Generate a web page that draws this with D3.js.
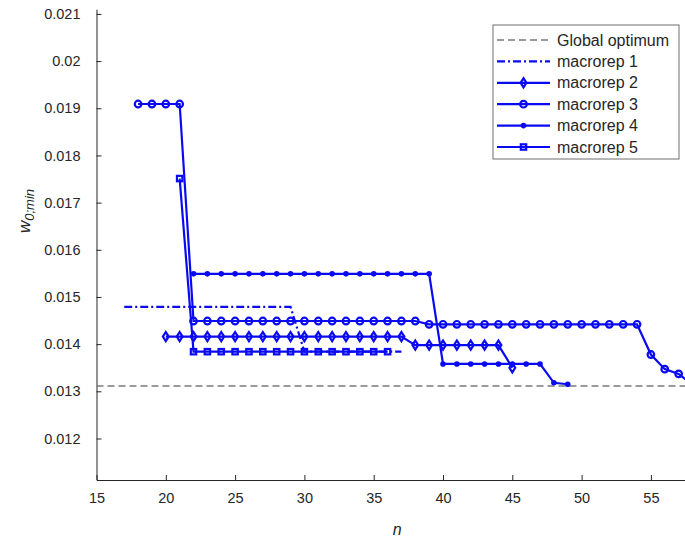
<!DOCTYPE html>
<html>
<head>
<meta charset="utf-8">
<script src="https://cdn.jsdelivr.net/npm/d3@7"></script>
<style>
  html, body { margin: 0; padding: 0; background: #fff; }
  svg { display: block; font-family: "Liberation Sans", Arial, sans-serif; }
</style>
</head>
<body>
<div id="chart"></div>
<script>
// values: [n, w0;min]
const globalOptimum = 0.01311;

const macrorep1 = [[17,0.01479],[18,0.01479],[19,0.01479],[20,0.01479],[21,0.01479],[22,0.01479],[23,0.01479],
  [24,0.01479],[25,0.01479],[26,0.01479],[27,0.01479],[28,0.01479],[29,0.01479],
  [30,0.01384],[31,0.01384],[32,0.01384],[33,0.01384],[34,0.01384],[35,0.01384],[36,0.01384],[37,0.01384]];

const macrorep2 = [[20,0.01416],[21,0.01416],[22,0.01416],[23,0.01416],[24,0.01416],[25,0.01416],[26,0.01416],
  [27,0.01416],[28,0.01416],[29,0.01416],[30,0.01416],[31,0.01416],[32,0.01416],[33,0.01416],[34,0.01416],
  [35,0.01416],[36,0.01416],[37,0.01416],
  [38,0.01398],[39,0.01398],[40,0.01398],[41,0.01398],[42,0.01398],[43,0.01398],[44,0.01398],
  [45,0.01350]];

const macrorep3 = [[18,0.01909],[19,0.01909],[20,0.01909],[21,0.01909],
  [22,0.01449],[23,0.01449],[24,0.01449],[25,0.01449],[26,0.01449],[27,0.01449],[28,0.01449],[29,0.01449],
  [30,0.01449],[31,0.01449],[32,0.01449],[33,0.01449],[34,0.01449],[35,0.01449],[36,0.01449],[37,0.01449],
  [38,0.01449],
  [39,0.01442],[40,0.01442],[41,0.01442],[42,0.01442],[43,0.01442],[44,0.01442],[45,0.01442],[46,0.01442],
  [47,0.01442],[48,0.01442],[49,0.01442],[50,0.01442],[51,0.01442],[52,0.01442],[53,0.01442],[54,0.01442],
  [55,0.01378],[56,0.01347],[57,0.01337],[58,0.01314]];

const macrorep4 = [[22,0.01549],[23,0.01549],[24,0.01549],[25,0.01549],[26,0.01549],[27,0.01549],[28,0.01549],
  [29,0.01549],[30,0.01549],[31,0.01549],[32,0.01549],[33,0.01549],[34,0.01549],[35,0.01549],[36,0.01549],
  [37,0.01549],[38,0.01549],[39,0.01549],
  [40,0.01358],[41,0.01358],[42,0.01358],[43,0.01358],[44,0.01358],[45,0.01358],[46,0.01358],[47,0.01358],
  [48,0.01318],[49,0.01315]];

const macrorep5 = [[21,0.01751],
  [22,0.01384],[23,0.01384],[24,0.01384],[25,0.01384],[26,0.01384],[27,0.01384],[28,0.01384],[29,0.01384],
  [30,0.01384],[31,0.01384],[32,0.01384],[33,0.01384],[34,0.01384],[35,0.01384],[36,0.01384]];

const xTicks = [15, 20, 25, 30, 35, 40, 45, 50, 55];
const yTicks = [0.012, 0.013, 0.014, 0.015, 0.016, 0.017, 0.018, 0.019, 0.02, 0.021];

const series = [
  {name: "macrorep 1", data: macrorep1, marker: "none", dash: "8,3,2,3"},
  {name: "macrorep 2", data: macrorep2, marker: "diamond"},
  {name: "macrorep 3", data: macrorep3, marker: "circle"},
  {name: "macrorep 4", data: macrorep4, marker: "dot"},
  {name: "macrorep 5", data: macrorep5, marker: "square"}
];

const width = 685, height = 539;
const blue = "#0a0af2", axisCol = "#262626";

const x = d3.scaleLinear().domain([15, 57.46]).range([96.5, 685]);
const y = d3.scaleLinear().domain([0.01112, 0.0211]).range([480, 9.2]);

const svg = d3.select("#chart").append("svg")
  .attr("width", width).attr("height", height)
  .attr("viewBox", [0, 0, width, height]);

svg.append("defs").append("clipPath").attr("id", "plotClip")
  .append("rect").attr("x", x.range()[0]).attr("y", y.range()[1])
  .attr("width", x.range()[1] - x.range()[0]).attr("height", y.range()[0] - y.range()[1]);

// axes (MATLAB style, ticks pointing inward)
const xAxis = svg.append("g").attr("transform", `translate(0,${y.range()[0]})`)
  .call(d3.axisBottom(x).tickValues(xTicks).tickSizeInner(-5).tickSizeOuter(0).tickPadding(13));
const yAxis = svg.append("g").attr("transform", `translate(${x.range()[0]},0)`)
  .call(d3.axisLeft(y).tickValues(yTicks).tickSizeInner(-5).tickSizeOuter(0).tickPadding(16)
    .tickFormat(d => String(+d.toFixed(3))));
[xAxis, yAxis].forEach(g => {
  g.select(".domain").attr("stroke", axisCol).attr("stroke-width", 1);
  g.selectAll(".tick line").attr("stroke", axisCol);
  g.selectAll("text").attr("fill", axisCol).style("font-size", "14.5px")
    .style("font-family", "'Liberation Sans', Arial, sans-serif");
});

// axis labels
svg.append("text")
  .attr("x", x(36.7)).attr("y", 535)
  .attr("text-anchor", "middle").attr("fill", axisCol)
  .style("font-size", "16px").style("font-style", "italic")
  .text("n");

const yl = svg.append("text")
  .attr("transform", "translate(30,211) rotate(-90)")
  .attr("text-anchor", "middle").attr("fill", axisCol)
  .style("font-size", "17px").style("font-style", "italic");
yl.append("tspan").text("w");
yl.append("tspan").attr("dy", 4).style("font-size", "13px").text("0;min");

const plot = svg.append("g").attr("clip-path", "url(#plotClip)");

// global optimum
plot.append("line")
  .attr("x1", x.range()[0]).attr("x2", x.range()[1])
  .attr("y1", y(globalOptimum)).attr("y2", y(globalOptimum))
  .attr("stroke", "#7a7a7a").attr("stroke-width", 1.5).attr("stroke-dasharray", "7,4");

const line = d3.line().x(d => x(d[0])).y(d => y(d[1]));

function drawMarker(g, type) {
  if (type === "circle") g.append("circle").attr("r", 3.3).attr("fill", "none").attr("stroke", blue).attr("stroke-width", 2.2);
  else if (type === "dot") g.append("circle").attr("r", 2.8).attr("fill", blue);
  else if (type === "square") g.append("rect").attr("x", -2.7).attr("y", -2.7).attr("width", 5.4).attr("height", 5.4)
    .attr("fill", "none").attr("stroke", blue).attr("stroke-width", 2.2);
  else if (type === "diamond") g.append("path").attr("d", "M0,-4.6L2.9,0L0,4.6L-2.9,0Z")
    .attr("fill", "none").attr("stroke", blue).attr("stroke-width", 2.2);
}

series.forEach(s => {
  plot.append("path").datum(s.data)
    .attr("d", line).attr("fill", "none").attr("stroke", blue).attr("stroke-width", 2.2)
    .attr("stroke-dasharray", s.dash || null);
  if (s.marker !== "none") {
    plot.selectAll(null).data(s.data).join("g")
      .attr("transform", d => `translate(${x(d[0])},${y(d[1])})`)
      .each(function() { drawMarker(d3.select(this), s.marker); });
  }
});

// legend
const leg = svg.append("g").attr("transform", "translate(493,25)");
leg.append("rect").attr("width", 186).attr("height", 134)
  .attr("fill", "#fff").attr("stroke", "#6e6e6e").attr("stroke-width", 1);
const items = [{name: "Global optimum", optimum: true}].concat(series);
items.forEach((it, i) => {
  const g = leg.append("g").attr("transform", `translate(0,${15 + i * 21.4})`);
  g.append("line").attr("x1", 4).attr("x2", 57)
    .attr("stroke", it.optimum ? "#7a7a7a" : blue)
    .attr("stroke-width", it.optimum ? 1.5 : 2.2)
    .attr("stroke-dasharray", it.optimum ? "7,4" : (it.dash || null));
  if (!it.optimum && it.marker !== "none") drawMarker(g.append("g").attr("transform", "translate(30.5,0)"), it.marker);
  g.append("text").attr("x", 64).attr("y", 5.5).attr("fill", axisCol)
    .style("font-size", "16px").text(it.name);
});
</script>
</body>
</html>
